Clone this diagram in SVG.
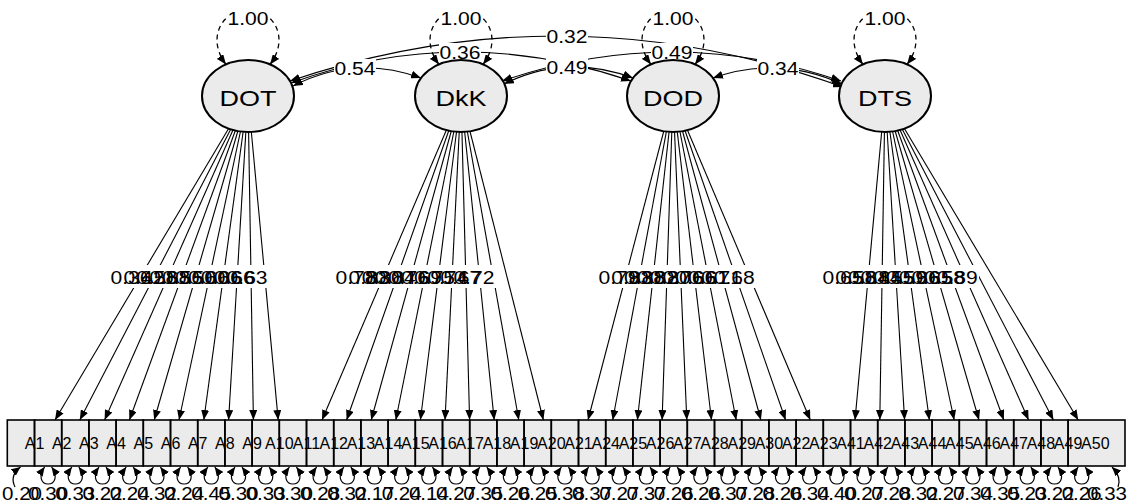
<svg xmlns="http://www.w3.org/2000/svg" xmlns:xlink="http://www.w3.org/1999/xlink" width="1129" height="504" viewBox="0 0 1129 504">
<style>
text{font-family:"Liberation Sans",Arial,sans-serif;fill:#000;text-anchor:middle}
.n{font-size:18px}
.lat{font-size:22px}
.bx{font-size:16px}
.row{fill:#ebebeb;stroke:none}
.box{fill:none;stroke:#000;stroke-width:1.6}
.ell{fill:#ebebeb;stroke:#000;stroke-width:2}
.ld{stroke:#000;stroke-width:1.1;fill:none;marker-end:url(#ah)}
.cv{stroke:#000;stroke-width:1.1;fill:none;marker-start:url(#ahs);marker-end:url(#ah)}
.sl{stroke:#000;stroke-width:1.3;fill:none;stroke-dasharray:5 4;marker-start:url(#ahs);marker-end:url(#ah)}
.rl{stroke:#000;stroke-width:1.2;fill:none;marker-start:url(#ahs2);marker-end:url(#ah2)}
.rs{stroke:#000;stroke-width:1.2;fill:none;marker-end:url(#ah2)}
.bg{fill:#fff}
</style>
<defs>
<marker id="ah" viewBox="0 0 10 8" refX="10" refY="4" markerWidth="10" markerHeight="8" markerUnits="userSpaceOnUse" orient="auto"><path d="M0,0L10,4L0,8z"/></marker>
<marker id="ahs" viewBox="0 0 10 8" refX="10" refY="4" markerWidth="10" markerHeight="8" markerUnits="userSpaceOnUse" orient="auto-start-reverse"><path d="M0,0L10,4L0,8z"/></marker>
<marker id="ah2" viewBox="0 0 9 8" refX="9" refY="4" markerWidth="9" markerHeight="8" markerUnits="userSpaceOnUse" orient="auto"><path d="M0,0L9,4L0,8z"/></marker>
<marker id="ahs2" viewBox="0 0 9 8" refX="9" refY="4" markerWidth="9" markerHeight="8" markerUnits="userSpaceOnUse" orient="auto-start-reverse"><path d="M0,0L9,4L0,8z"/></marker>
<path id="rl" class="rl" d="M-3.5,467 C-10,476 -7,484 0,484 C7,484 10,476 3.5,467"/>
<path id="sl" class="sl" d="M-22,64.5 C-42,38 -26,10 0,10 C26,10 42,38 22,64.5"/>
</defs>
<rect width="1129" height="504" fill="#fff"/>

<!-- manifest nodes -->
<rect class="row" x="7.3" y="420" width="1117.7" height="46"/>
<g id="A1"><rect class="box" x="7.3" y="420" width="27.2" height="46"/><text class="bx" x="34.5" y="448.7">A1</text></g>
<g id="A2"><rect class="box" x="34.5" y="420" width="27.2" height="46"/><text class="bx" x="61.7" y="448.7">A2</text></g>
<g id="A3"><rect class="box" x="61.7" y="420" width="27.2" height="46"/><text class="bx" x="88.9" y="448.7">A3</text></g>
<g id="A4"><rect class="box" x="88.9" y="420" width="27.2" height="46"/><text class="bx" x="116.1" y="448.7">A4</text></g>
<g id="A5"><rect class="box" x="116.1" y="420" width="27.2" height="46"/><text class="bx" x="143.3" y="448.7">A5</text></g>
<g id="A6"><rect class="box" x="143.3" y="420" width="27.2" height="46"/><text class="bx" x="170.5" y="448.7">A6</text></g>
<g id="A7"><rect class="box" x="170.5" y="420" width="27.2" height="46"/><text class="bx" x="197.7" y="448.7">A7</text></g>
<g id="A8"><rect class="box" x="197.7" y="420" width="27.2" height="46"/><text class="bx" x="224.9" y="448.7">A8</text></g>
<g id="A9"><rect class="box" x="224.9" y="420" width="27.2" height="46"/><text class="bx" x="252.1" y="448.7">A9</text></g>
<g id="A10"><rect class="box" x="252.1" y="420" width="27.2" height="46"/><text class="bx" x="279.3" y="448.7">A10</text></g>
<g id="A11"><rect class="box" x="279.3" y="420" width="27.2" height="46"/><text class="bx" x="306.5" y="448.7">A11</text></g>
<g id="A12"><rect class="box" x="306.5" y="420" width="27.2" height="46"/><text class="bx" x="333.7" y="448.7">A12</text></g>
<g id="A13"><rect class="box" x="333.7" y="420" width="27.2" height="46"/><text class="bx" x="360.9" y="448.7">A13</text></g>
<g id="A14"><rect class="box" x="360.9" y="420" width="27.2" height="46"/><text class="bx" x="388.1" y="448.7">A14</text></g>
<g id="A15"><rect class="box" x="388.1" y="420" width="27.2" height="46"/><text class="bx" x="415.3" y="448.7">A15</text></g>
<g id="A16"><rect class="box" x="415.3" y="420" width="27.2" height="46"/><text class="bx" x="442.5" y="448.7">A16</text></g>
<g id="A17"><rect class="box" x="442.5" y="420" width="27.2" height="46"/><text class="bx" x="469.7" y="448.7">A17</text></g>
<g id="A18"><rect class="box" x="469.7" y="420" width="27.2" height="46"/><text class="bx" x="496.9" y="448.7">A18</text></g>
<g id="A19"><rect class="box" x="496.9" y="420" width="27.2" height="46"/><text class="bx" x="524.1" y="448.7">A19</text></g>
<g id="A20"><rect class="box" x="524.1" y="420" width="27.2" height="46"/><text class="bx" x="551.3" y="448.7">A20</text></g>
<g id="A21"><rect class="box" x="551.3" y="420" width="27.2" height="46"/><text class="bx" x="578.5" y="448.7">A21</text></g>
<g id="A24"><rect class="box" x="578.5" y="420" width="27.2" height="46"/><text class="bx" x="605.7" y="448.7">A24</text></g>
<g id="A25"><rect class="box" x="605.7" y="420" width="27.2" height="46"/><text class="bx" x="632.9" y="448.7">A25</text></g>
<g id="A26"><rect class="box" x="632.9" y="420" width="27.2" height="46"/><text class="bx" x="660.1" y="448.7">A26</text></g>
<g id="A27"><rect class="box" x="660.1" y="420" width="27.2" height="46"/><text class="bx" x="687.3" y="448.7">A27</text></g>
<g id="A28"><rect class="box" x="687.3" y="420" width="27.2" height="46"/><text class="bx" x="714.5" y="448.7">A28</text></g>
<g id="A29"><rect class="box" x="714.5" y="420" width="27.2" height="46"/><text class="bx" x="741.7" y="448.7">A29</text></g>
<g id="A30"><rect class="box" x="741.7" y="420" width="27.2" height="46"/><text class="bx" x="768.9" y="448.7">A30</text></g>
<g id="A22"><rect class="box" x="768.9" y="420" width="27.2" height="46"/><text class="bx" x="796.1" y="448.7">A22</text></g>
<g id="A23"><rect class="box" x="796.1" y="420" width="27.2" height="46"/><text class="bx" x="823.3" y="448.7">A23</text></g>
<g id="A41"><rect class="box" x="823.3" y="420" width="27.2" height="46"/><text class="bx" x="850.5" y="448.7">A41</text></g>
<g id="A42"><rect class="box" x="850.5" y="420" width="27.2" height="46"/><text class="bx" x="877.7" y="448.7">A42</text></g>
<g id="A43"><rect class="box" x="877.7" y="420" width="27.2" height="46"/><text class="bx" x="904.9" y="448.7">A43</text></g>
<g id="A44"><rect class="box" x="904.9" y="420" width="27.2" height="46"/><text class="bx" x="932.1" y="448.7">A44</text></g>
<g id="A45"><rect class="box" x="932.1" y="420" width="27.2" height="46"/><text class="bx" x="959.3" y="448.7">A45</text></g>
<g id="A46"><rect class="box" x="959.3" y="420" width="27.2" height="46"/><text class="bx" x="986.5" y="448.7">A46</text></g>
<g id="A47"><rect class="box" x="986.5" y="420" width="27.2" height="46"/><text class="bx" x="1013.7" y="448.7">A47</text></g>
<g id="A48"><rect class="box" x="1013.7" y="420" width="27.2" height="46"/><text class="bx" x="1040.9" y="448.7">A48</text></g>
<g id="A49"><rect class="box" x="1040.9" y="420" width="27.2" height="46"/><text class="bx" x="1068.1" y="448.7">A49</text></g>
<g id="A50"><rect class="box" x="1068.1" y="420" width="56.9" height="46"/><text class="bx" x="1095.3" y="448.7">A50</text></g>

<g id="connectors">
<line class="ld" x1="248" y1="96" x2="55" y2="420"/>
<line class="ld" x1="248" y1="96" x2="79.8" y2="420"/>
<line class="ld" x1="248" y1="96" x2="104.6" y2="420"/>
<line class="ld" x1="248" y1="96" x2="129.4" y2="420"/>
<line class="ld" x1="248" y1="96" x2="154.2" y2="420"/>
<line class="ld" x1="248" y1="96" x2="179" y2="420"/>
<line class="ld" x1="248" y1="96" x2="203.8" y2="420"/>
<line class="ld" x1="248" y1="96" x2="228.6" y2="420"/>
<line class="ld" x1="248" y1="96" x2="253.4" y2="420"/>
<line class="ld" x1="248" y1="96" x2="278.2" y2="420"/>
<line class="ld" x1="461" y1="96" x2="322" y2="420"/>
<line class="ld" x1="461" y1="96" x2="346.6" y2="420"/>
<line class="ld" x1="461" y1="96" x2="371.2" y2="420"/>
<line class="ld" x1="461" y1="96" x2="395.8" y2="420"/>
<line class="ld" x1="461" y1="96" x2="420.4" y2="420"/>
<line class="ld" x1="461" y1="96" x2="445" y2="420"/>
<line class="ld" x1="461" y1="96" x2="469.6" y2="420"/>
<line class="ld" x1="461" y1="96" x2="494.2" y2="420"/>
<line class="ld" x1="461" y1="96" x2="518.8" y2="420"/>
<line class="ld" x1="461" y1="96" x2="543.4" y2="420"/>
<line class="ld" x1="673" y1="96" x2="588" y2="420"/>
<line class="ld" x1="673" y1="96" x2="612.7" y2="420"/>
<line class="ld" x1="673" y1="96" x2="637.4" y2="420"/>
<line class="ld" x1="673" y1="96" x2="662.1" y2="420"/>
<line class="ld" x1="673" y1="96" x2="686.8" y2="420"/>
<line class="ld" x1="673" y1="96" x2="711.5" y2="420"/>
<line class="ld" x1="673" y1="96" x2="736.2" y2="420"/>
<line class="ld" x1="673" y1="96" x2="760.9" y2="420"/>
<line class="ld" x1="673" y1="96" x2="785.6" y2="420"/>
<line class="ld" x1="673" y1="96" x2="810.3" y2="420"/>
<line class="ld" x1="885" y1="96" x2="855" y2="420"/>
<line class="ld" x1="885" y1="96" x2="879.8" y2="420"/>
<line class="ld" x1="885" y1="96" x2="904.6" y2="420"/>
<line class="ld" x1="885" y1="96" x2="929.4" y2="420"/>
<line class="ld" x1="885" y1="96" x2="954.2" y2="420"/>
<line class="ld" x1="885" y1="96" x2="979" y2="420"/>
<line class="ld" x1="885" y1="96" x2="1003.8" y2="420"/>
<line class="ld" x1="885" y1="96" x2="1028.6" y2="420"/>
<line class="ld" x1="885" y1="96" x2="1053.4" y2="420"/>
<line class="ld" x1="885" y1="96" x2="1078.2" y2="420"/>

<rect class="bg" x="109" y="265" width="160" height="23"/>
<rect class="bg" x="334" y="265" width="163" height="23"/>
<rect class="bg" x="597" y="265" width="160" height="23"/>
<rect class="bg" x="821" y="265" width="158" height="23"/>
<g class="n">
<text x="131" y="283.5" textLength="41" lengthAdjust="spacingAndGlyphs">0.36</text>
<text x="143.9" y="283.5" textLength="41" lengthAdjust="spacingAndGlyphs">0.42</text>
<text x="156.8" y="283.5" textLength="41" lengthAdjust="spacingAndGlyphs">0.58</text>
<text x="169.7" y="283.5" textLength="41" lengthAdjust="spacingAndGlyphs">0.68</text>
<text x="182.6" y="283.5" textLength="41" lengthAdjust="spacingAndGlyphs">0.56</text>
<text x="195.5" y="283.5" textLength="41" lengthAdjust="spacingAndGlyphs">0.50</text>
<text x="208.4" y="283.5" textLength="41" lengthAdjust="spacingAndGlyphs">0.60</text>
<text x="221.3" y="283.5" textLength="41" lengthAdjust="spacingAndGlyphs">0.66</text>
<text x="234.2" y="283.5" textLength="41" lengthAdjust="spacingAndGlyphs">0.66</text>
<text x="247.1" y="283.5" textLength="41" lengthAdjust="spacingAndGlyphs">0.63</text>
<text x="356" y="283.5" textLength="41" lengthAdjust="spacingAndGlyphs">0.78</text>
<text x="369.1" y="283.5" textLength="41" lengthAdjust="spacingAndGlyphs">0.83</text>
<text x="382.2" y="283.5" textLength="41" lengthAdjust="spacingAndGlyphs">0.80</text>
<text x="395.3" y="283.5" textLength="41" lengthAdjust="spacingAndGlyphs">0.84</text>
<text x="408.4" y="283.5" textLength="41" lengthAdjust="spacingAndGlyphs">0.76</text>
<text x="421.5" y="283.5" textLength="41" lengthAdjust="spacingAndGlyphs">0.69</text>
<text x="434.6" y="283.5" textLength="41" lengthAdjust="spacingAndGlyphs">0.75</text>
<text x="447.7" y="283.5" textLength="41" lengthAdjust="spacingAndGlyphs">0.74</text>
<text x="460.8" y="283.5" textLength="41" lengthAdjust="spacingAndGlyphs">0.67</text>
<text x="473.9" y="283.5" textLength="41" lengthAdjust="spacingAndGlyphs">0.72</text>
<text x="619" y="283.5" textLength="41" lengthAdjust="spacingAndGlyphs">0.79</text>
<text x="631.8" y="283.5" textLength="41" lengthAdjust="spacingAndGlyphs">0.83</text>
<text x="644.6" y="283.5" textLength="41" lengthAdjust="spacingAndGlyphs">0.88</text>
<text x="657.4" y="283.5" textLength="41" lengthAdjust="spacingAndGlyphs">0.82</text>
<text x="670.2" y="283.5" textLength="41" lengthAdjust="spacingAndGlyphs">0.80</text>
<text x="683" y="283.5" textLength="41" lengthAdjust="spacingAndGlyphs">0.76</text>
<text x="695.8" y="283.5" textLength="41" lengthAdjust="spacingAndGlyphs">0.66</text>
<text x="708.6" y="283.5" textLength="41" lengthAdjust="spacingAndGlyphs">0.61</text>
<text x="721.4" y="283.5" textLength="41" lengthAdjust="spacingAndGlyphs">0.71</text>
<text x="734.2" y="283.5" textLength="41" lengthAdjust="spacingAndGlyphs">0.68</text>
<text x="843" y="283.5" textLength="41" lengthAdjust="spacingAndGlyphs">0.65</text>
<text x="855.7" y="283.5" textLength="41" lengthAdjust="spacingAndGlyphs">0.58</text>
<text x="868.4" y="283.5" textLength="41" lengthAdjust="spacingAndGlyphs">0.64</text>
<text x="881.1" y="283.5" textLength="41" lengthAdjust="spacingAndGlyphs">0.84</text>
<text x="893.8" y="283.5" textLength="41" lengthAdjust="spacingAndGlyphs">0.55</text>
<text x="906.5" y="283.5" textLength="41" lengthAdjust="spacingAndGlyphs">0.59</text>
<text x="919.2" y="283.5" textLength="41" lengthAdjust="spacingAndGlyphs">0.66</text>
<text x="931.9" y="283.5" textLength="41" lengthAdjust="spacingAndGlyphs">0.65</text>
<text x="944.6" y="283.5" textLength="41" lengthAdjust="spacingAndGlyphs">0.58</text>
<text x="957.3" y="283.5" textLength="41" lengthAdjust="spacingAndGlyphs">0.89</text>
</g>

<use xlink:href="#sl" x="248"/>
<use xlink:href="#sl" x="461"/>
<use xlink:href="#sl" x="673"/>
<use xlink:href="#sl" x="885"/>
<rect class="bg" x="226" y="9" width="44" height="18"/>
<rect class="bg" x="439" y="9" width="44" height="18"/>
<rect class="bg" x="651" y="9" width="44" height="18"/>
<rect class="bg" x="863" y="9" width="44" height="18"/>
<g class="n">
<text x="248" y="24.5" textLength="41" lengthAdjust="spacingAndGlyphs">1.00</text>
<text x="461" y="24.5" textLength="41" lengthAdjust="spacingAndGlyphs">1.00</text>
<text x="673" y="24.5" textLength="41" lengthAdjust="spacingAndGlyphs">1.00</text>
<text x="885" y="24.5" textLength="41" lengthAdjust="spacingAndGlyphs">1.00</text>
</g>

<path class="cv" d="M290,81 Q567,-12 843,87"/>
<path class="cv" d="M291,83 Q459,22 631,81"/>
<path class="cv" d="M502,81 Q672,23 841,81"/>
<path class="cv" d="M293,86 Q355,54 421,78"/>
<path class="cv" d="M504,84 Q566,53 633,78"/>
<path class="cv" d="M713,78 Q778,55 842,84"/>
<rect class="bg" x="546" y="27" width="42" height="17"/>
<rect class="bg" x="439" y="43" width="42" height="17"/>
<rect class="bg" x="651" y="43" width="42" height="17"/>
<rect class="bg" x="334" y="59" width="42" height="17"/>
<rect class="bg" x="546" y="58" width="42" height="17"/>
<rect class="bg" x="757" y="59" width="42" height="17"/>
<g class="n">
<text x="567" y="42.5" textLength="41" lengthAdjust="spacingAndGlyphs">0.32</text>
<text x="460" y="58.5" textLength="41" lengthAdjust="spacingAndGlyphs">0.36</text>
<text x="672" y="58.5" textLength="41" lengthAdjust="spacingAndGlyphs">0.49</text>
<text x="355" y="74.5" textLength="41" lengthAdjust="spacingAndGlyphs">0.54</text>
<text x="567" y="73.5" textLength="41" lengthAdjust="spacingAndGlyphs">0.49</text>
<text x="778" y="74.5" textLength="41" lengthAdjust="spacingAndGlyphs">0.34</text>
</g>

<path class="rs" d="M15,487 C11,479 14,472 20.5,467"/>
<use xlink:href="#rl" x="48.1"/><use xlink:href="#rl" x="75.3"/><use xlink:href="#rl" x="102.5"/><use xlink:href="#rl" x="129.7"/><use xlink:href="#rl" x="156.9"/><use xlink:href="#rl" x="184.1"/><use xlink:href="#rl" x="211.3"/><use xlink:href="#rl" x="238.5"/><use xlink:href="#rl" x="265.7"/><use xlink:href="#rl" x="292.9"/>
<use xlink:href="#rl" x="320.1"/><use xlink:href="#rl" x="347.3"/><use xlink:href="#rl" x="374.5"/><use xlink:href="#rl" x="401.7"/><use xlink:href="#rl" x="428.9"/><use xlink:href="#rl" x="456.1"/><use xlink:href="#rl" x="483.3"/><use xlink:href="#rl" x="510.5"/><use xlink:href="#rl" x="537.7"/><use xlink:href="#rl" x="564.9"/>
<use xlink:href="#rl" x="592.1"/><use xlink:href="#rl" x="619.3"/><use xlink:href="#rl" x="646.5"/><use xlink:href="#rl" x="673.7"/><use xlink:href="#rl" x="700.9"/><use xlink:href="#rl" x="728.1"/><use xlink:href="#rl" x="755.3"/><use xlink:href="#rl" x="782.5"/><use xlink:href="#rl" x="809.7"/><use xlink:href="#rl" x="836.9"/>
<use xlink:href="#rl" x="864.1"/><use xlink:href="#rl" x="891.3"/><use xlink:href="#rl" x="918.5"/><use xlink:href="#rl" x="945.7"/><use xlink:href="#rl" x="972.9"/><use xlink:href="#rl" x="1000.1"/><use xlink:href="#rl" x="1027.3"/><use xlink:href="#rl" x="1054.5"/><use xlink:href="#rl" x="1081.7"/>
<path class="rs" d="M1118,487 C1121,479 1118,473 1112,467"/>
<g class="n">
<text x="22" y="499.5" textLength="40" lengthAdjust="spacingAndGlyphs">0.20</text>
<text x="48.1" y="499.5" textLength="40" lengthAdjust="spacingAndGlyphs">0.30</text>
<text x="75.3" y="499.5" textLength="40" lengthAdjust="spacingAndGlyphs">0.33</text>
<text x="102.5" y="499.5" textLength="40" lengthAdjust="spacingAndGlyphs">0.22</text>
<text x="129.7" y="499.5" textLength="40" lengthAdjust="spacingAndGlyphs">0.24</text>
<text x="156.9" y="499.5" textLength="40" lengthAdjust="spacingAndGlyphs">0.32</text>
<text x="184.1" y="499.5" textLength="40" lengthAdjust="spacingAndGlyphs">0.24</text>
<text x="211.3" y="499.5" textLength="40" lengthAdjust="spacingAndGlyphs">0.45</text>
<text x="238.5" y="499.5" textLength="40" lengthAdjust="spacingAndGlyphs">0.30</text>
<text x="265.7" y="499.5" textLength="40" lengthAdjust="spacingAndGlyphs">0.33</text>
<text x="292.9" y="499.5" textLength="40" lengthAdjust="spacingAndGlyphs">0.30</text>
<text x="320.1" y="499.5" textLength="40" lengthAdjust="spacingAndGlyphs">0.28</text>
<text x="347.3" y="499.5" textLength="40" lengthAdjust="spacingAndGlyphs">0.32</text>
<text x="374.5" y="499.5" textLength="40" lengthAdjust="spacingAndGlyphs">0.17</text>
<text x="401.7" y="499.5" textLength="40" lengthAdjust="spacingAndGlyphs">0.24</text>
<text x="428.9" y="499.5" textLength="40" lengthAdjust="spacingAndGlyphs">0.14</text>
<text x="456.1" y="499.5" textLength="40" lengthAdjust="spacingAndGlyphs">0.27</text>
<text x="483.3" y="499.5" textLength="40" lengthAdjust="spacingAndGlyphs">0.35</text>
<text x="510.5" y="499.5" textLength="40" lengthAdjust="spacingAndGlyphs">0.26</text>
<text x="537.7" y="499.5" textLength="40" lengthAdjust="spacingAndGlyphs">0.25</text>
<text x="564.9" y="499.5" textLength="40" lengthAdjust="spacingAndGlyphs">0.38</text>
<text x="592.1" y="499.5" textLength="40" lengthAdjust="spacingAndGlyphs">0.37</text>
<text x="619.3" y="499.5" textLength="40" lengthAdjust="spacingAndGlyphs">0.27</text>
<text x="646.5" y="499.5" textLength="40" lengthAdjust="spacingAndGlyphs">0.37</text>
<text x="673.7" y="499.5" textLength="40" lengthAdjust="spacingAndGlyphs">0.26</text>
<text x="700.9" y="499.5" textLength="40" lengthAdjust="spacingAndGlyphs">0.26</text>
<text x="728.1" y="499.5" textLength="40" lengthAdjust="spacingAndGlyphs">0.37</text>
<text x="755.3" y="499.5" textLength="40" lengthAdjust="spacingAndGlyphs">0.28</text>
<text x="782.5" y="499.5" textLength="40" lengthAdjust="spacingAndGlyphs">0.26</text>
<text x="809.7" y="499.5" textLength="40" lengthAdjust="spacingAndGlyphs">0.34</text>
<text x="836.9" y="499.5" textLength="40" lengthAdjust="spacingAndGlyphs">0.40</text>
<text x="864.1" y="499.5" textLength="40" lengthAdjust="spacingAndGlyphs">0.27</text>
<text x="891.3" y="499.5" textLength="40" lengthAdjust="spacingAndGlyphs">0.28</text>
<text x="918.5" y="499.5" textLength="40" lengthAdjust="spacingAndGlyphs">0.32</text>
<text x="945.7" y="499.5" textLength="40" lengthAdjust="spacingAndGlyphs">0.27</text>
<text x="972.9" y="499.5" textLength="40" lengthAdjust="spacingAndGlyphs">0.34</text>
<text x="1000.1" y="499.5" textLength="40" lengthAdjust="spacingAndGlyphs">0.35</text>
<text x="1027.3" y="499.5" textLength="40" lengthAdjust="spacingAndGlyphs">0.23</text>
<text x="1054.5" y="499.5" textLength="40" lengthAdjust="spacingAndGlyphs">0.22</text>
<text x="1081.7" y="499.5" textLength="40" lengthAdjust="spacingAndGlyphs">0.26</text>
<text x="1107" y="499.5" textLength="40" lengthAdjust="spacingAndGlyphs">0.33</text>
</g>
</g>

<g id="DOT"><ellipse class="ell" cx="248" cy="96" rx="46" ry="36"/><text class="lat" x="248" y="105.5" textLength="57" lengthAdjust="spacingAndGlyphs">DOT</text></g>
<g id="DkK"><ellipse class="ell" cx="461" cy="96" rx="46" ry="36"/><text class="lat" x="461" y="105.5" textLength="51" lengthAdjust="spacingAndGlyphs">DkK</text></g>
<g id="DOD"><ellipse class="ell" cx="673" cy="96" rx="46" ry="36"/><text class="lat" x="673" y="105.5" textLength="60" lengthAdjust="spacingAndGlyphs">DOD</text></g>
<g id="DTS"><ellipse class="ell" cx="885" cy="96" rx="46" ry="36"/><text class="lat" x="885" y="105.5" textLength="54" lengthAdjust="spacingAndGlyphs">DTS</text></g>
</svg>
